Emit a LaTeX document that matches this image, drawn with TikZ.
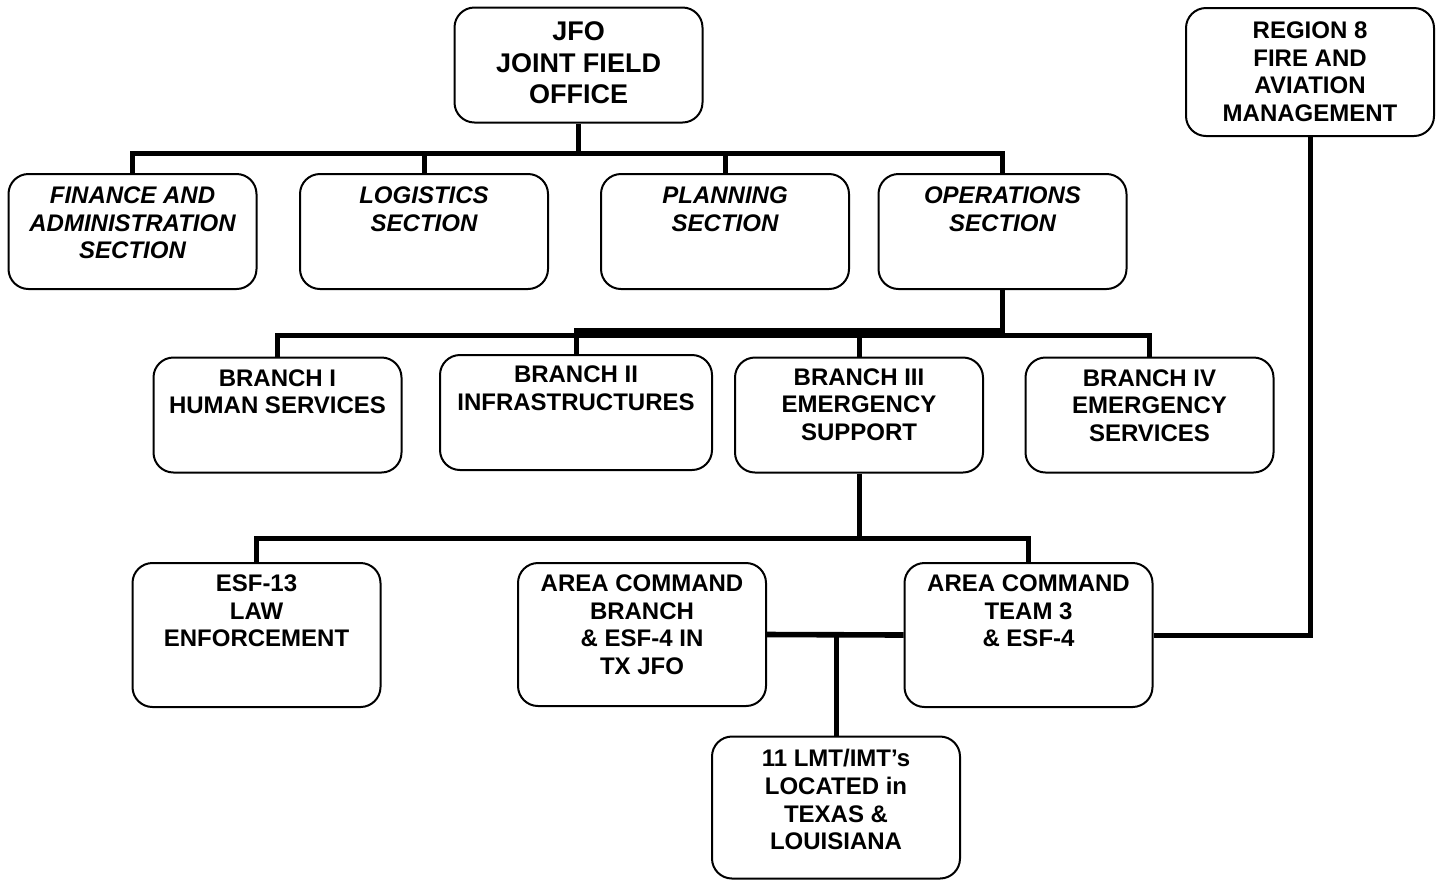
\documentclass[tikz,border=0pt]{standalone}
\usepackage{fontspec}
\setmainfont{Liberation Sans}
\usetikzlibrary{positioning}

\begin{document}
\begin{tikzpicture}[x=0.5pt, y=-0.5pt,
      box/.style={draw, line width=1pt, rounded corners=10pt, minimum width=124pt, minimum height=57.5pt},
      lbl/.style={align=center, inner sep=0pt, font={\bfseries\fontsize{12}{13.85}\selectfont}},
      ilbl/.style={lbl, font={\bfseries\itshape\fontsize{12}{13.85}\selectfont}},
      bar/.style={line width=2.5pt}]
    \useasboundingbox (0,0) rectangle (1444,880);
    % boxes
    \node[box] (jfo) at (578.5,65) {};
    \node[box, minimum height=64pt] (reg) at (1310,72) {};
    \node[box] (fin) at (132.5,231.5) {};
    \node[box] (log) at (424,231.5) {};
    \node[box] (pla) at (725,231.5) {};
    \node[box] (ops) at (1002.5,231.5) {};
    \node[box] (br1) at (277.5,415) {};
    \node[box, minimum width=136pt] (br2) at (576,412.5) {};
    \node[box] (br3) at (859,415) {};
    \node[box] (br4) at (1149.5,415) {};
    \node[box, minimum height=72pt] (esf) at (256.5,635) {};
    \node[box, minimum height=71.5pt] (acb) at (642,634.5) {};
    \node[box, minimum height=72pt] (act) at (1028.5,635) {};
    \node[box, minimum height=71pt] (lmt) at (836,807.5) {};
    % texts
    \node[lbl, font={\bfseries\fontsize{13.5}{15.75}\selectfont}, below=7.6pt of jfo.north] (jfo-t) {JFO\\JOINT FIELD\\OFFICE};
    \node[lbl, below=7.2pt of reg.north] (reg-t) {REGION 8\\FIRE AND\\AVIATION\\MANAGEMENT};
    \node[ilbl, below=6.7pt of fin.north] (fin-t) {FINANCE AND\\ADMINISTRATION\\SECTION};
    \node[ilbl, below=6.7pt of log.north] (log-t) {LOGISTICS\\SECTION};
    \node[ilbl, below=6.7pt of pla.north] (pla-t) {PLANNING\\SECTION};
    \node[ilbl, below=6.7pt of ops.north] (ops-t) {OPERATIONS\\SECTION};
    \node[lbl, below=6.2pt of br1.north] (br1-t) {BRANCH I\\HUMAN SERVICES};
    \node[lbl, below=5.7pt of br2.north] (br2-t) {BRANCH II\\INFRASTRUCTURES};
    \node[lbl, below=5.7pt of br3.north] (br3-t) {BRANCH III\\EMERGENCY\\SUPPORT};
    \node[lbl, below=6.2pt of br4.north] (br4-t) {BRANCH IV\\EMERGENCY\\SERVICES};
    \node[lbl, below=6.2pt of esf.north] (esf-t) {ESF-13\\LAW\\ENFORCEMENT};
    \node[lbl, below=6.2pt of acb.north] (acb-t) {AREA COMMAND\\BRANCH\\\& ESF-4 IN\\TX JFO};
    \node[lbl, below=6.2pt of act.north] (act-t) {AREA COMMAND\\TEAM 3\\\& ESF-4};
    \node[lbl, below=6.7pt of lmt.north] (lmt-t) {11 LMT/IMT’s\\LOCATED in\\TEXAS \&\\LOUISIANA};
    % connectors
    \coordinate (topbus) at (0,153);
    \coordinate (opsbus) at (0,335.5);
    \coordinate (opsbus2) at (0,330.5);
    \coordinate (esfbus) at (0,538);
    \draw[bar] (jfo.south) -- (jfo.south |- topbus);
    \draw[bar] (fin.north) -- (fin.north |- topbus) -- (ops.north |- topbus) -- (ops.north);
    \draw[bar] (log.north) -- (log.north |- topbus);
    \draw[bar] (pla.north) -- (pla.north |- topbus);
    \draw[bar] (br1.north) -- (br1.north |- opsbus) -- (br4.north |- opsbus) -- (br4.north);
    \draw[bar] (ops.south) -- (ops.south |- opsbus);
    \draw[bar] (ops.south |- opsbus2) -- (br2.north |- opsbus2) -- (br2.north);
    \draw[bar] (br3.north) -- (br3.north |- opsbus);
    \draw[bar] (br3.south) -- (br3.south |- esfbus);
    \draw[bar] (esf.north) -- (esf.north |- esfbus) -- (act.north |- esfbus) -- (act.north);
    \draw[bar] (reg.south) |- (act.east);
    \draw[bar, line width=2.8pt] (acb.east) -- (act.west);
    \draw[bar] (lmt.north) -- (lmt.north |- acb.east);
\end{tikzpicture}
\end{document}
